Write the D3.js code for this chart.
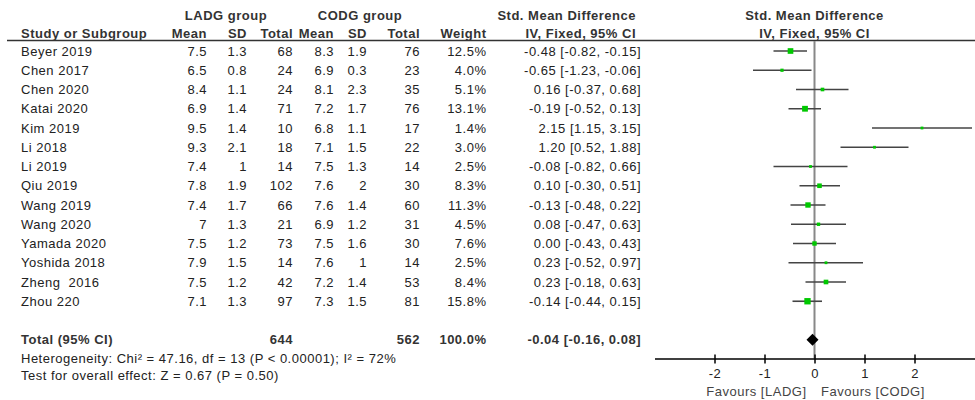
<!DOCTYPE html>
<html><head><meta charset="utf-8">
<script src="https://cdn.jsdelivr.net/npm/d3@7"></script>
<style>
body{margin:0;background:#fff;}
svg{display:block;font-family:"Liberation Sans",Arial,sans-serif;}
text{letter-spacing:0.5px;white-space:pre;}
</style></head>
<body><svg id="chart" width="975" height="400"></svg>
<script>
const studies = ["Beyer 2019","Chen 2017","Chen 2020","Katai 2020","Kim 2019","Li 2018","Li 2019","Qiu 2019","Wang 2019","Wang 2020","Yamada 2020","Yoshida 2018","Zheng  2016","Zhou 220"];
const ladgMean = [7.5,6.5,8.4,6.9,9.5,9.3,7.4,7.8,7.4,7,7.5,7.9,7.5,7.1];
const ladgSD   = [1.3,0.8,1.1,1.4,1.4,2.1,1,1.9,1.7,1.3,1.2,1.5,1.2,1.3];
const ladgN    = [68,24,24,71,10,18,14,102,66,21,73,14,42,97];
const codgMean = [8.3,6.9,8.1,7.2,6.8,7.1,7.5,7.6,7.6,6.9,7.5,7.6,7.2,7.3];
const codgSD   = [1.9,0.3,2.3,1.7,1.1,1.5,1.3,2,1.4,1.2,1.6,1,1.4,1.5];
const codgN    = [76,23,35,76,17,22,14,30,60,31,30,14,53,81];
const weight   = [12.5,4.0,5.1,13.1,1.4,3.0,2.5,8.3,11.3,4.5,7.6,2.5,8.4,15.8];
const smd      = [-0.48,-0.65,0.16,-0.19,2.15,1.20,-0.08,0.10,-0.13,0.08,0.00,0.23,0.23,-0.14];
const ciLow    = [-0.82,-1.23,-0.37,-0.52,1.15,0.52,-0.82,-0.30,-0.48,-0.47,-0.43,-0.52,-0.18,-0.44];
const ciHigh   = [-0.15,-0.06,0.68,0.13,3.15,1.88,0.66,0.51,0.22,0.63,0.43,0.97,0.63,0.15];
const total = {label:"Total (95% CI)", ladgN:644, codgN:562, weight:100.0, smd:-0.04, lo:-0.16, hi:0.08};
const heterogeneity = "Heterogeneity: Chi\u00b2 = 47.16, df = 13 (P < 0.00001); I\u00b2 = 72%";
const overallTest = "Test for overall effect: Z = 0.67 (P = 0.50)";
const axisTicks = [-2,-1,0,1,2];
const favours = ["Favours [LADG]","Favours [CODG]"];

const svg = d3.select("#chart");
const x = d3.scaleLinear().domain([-3.2,3.2]).range([654.5,974.5]);
const y = d3.scaleLinear().domain([0,1]).range([51,70.25]);
const textCol = "#222", headCol = "#333";
const fmt2 = v => v.toFixed(2);
const ciText = (m,l,h)=>`${fmt2(m)} [${fmt2(l)}, ${fmt2(h)}]`;

// columns (right-aligned x)
const cols = [
  {x:207, head:"Mean", vals:ladgMean.map(String)},
  {x:247, head:"SD", vals:ladgSD.map(String)},
  {x:293, head:"Total", vals:ladgN.map(String)},
  {x:334, head:"Mean", vals:codgMean.map(String)},
  {x:367, head:"SD", vals:codgSD.map(String)},
  {x:420, head:"Total", vals:codgN.map(String)},
  {x:486.5, head:"Weight", vals:weight.map(w=>w.toFixed(1)+"%")},
  {x:641, head:"IV, Fixed, 95% CI", vals:studies.map((s,i)=>ciText(smd[i],ciLow[i],ciHigh[i]))}
];

// headers
const hdr = svg.append("g").attr("font-weight","bold").attr("font-size",13).attr("fill",headCol);
hdr.append("text").attr("x",226).attr("y",19.5).attr("text-anchor","middle").text("LADG group");
hdr.append("text").attr("x",360).attr("y",19.5).attr("text-anchor","middle").text("CODG group");
hdr.append("text").attr("x",636).attr("y",19.5).attr("text-anchor","end").text("Std. Mean Difference");
hdr.append("text").attr("x",21).attr("y",38).text("Study or Subgroup");
cols.forEach((c,i)=>{
  hdr.append("text").attr("x", i===7?636:c.x).attr("y",38).attr("text-anchor","end").text(c.head);
});
hdr.append("text").attr("x",x(0)).attr("y",19.5).attr("text-anchor","middle").text("Std. Mean Difference");
hdr.append("text").attr("x",x(0)).attr("y",38).attr("text-anchor","middle").text("IV, Fixed, 95% CI");

svg.append("line").attr("x1",7).attr("x2",975).attr("y1",40.5).attr("y2",40.5).attr("stroke","#333").attr("stroke-width",1.5);

// rows
const body = svg.append("g").attr("font-size",13).attr("fill",textCol);
studies.forEach((s,i)=>{
  const yy = y(i)+4.5;
  body.append("text").attr("x",21).attr("y",yy).text(s);
  cols.forEach(c=>{
    body.append("text").attr("x",c.x).attr("y",yy).attr("text-anchor","end").text(c.vals[i]);
  });
});

// total row
const ty = y(15)+4.5;
const tot = svg.append("g").attr("font-size",13).attr("font-weight","bold").attr("fill",headCol);
tot.append("text").attr("x",21).attr("y",ty).text(total.label);
tot.append("text").attr("x",293).attr("y",ty).attr("text-anchor","end").text(total.ladgN);
tot.append("text").attr("x",420).attr("y",ty).attr("text-anchor","end").text(total.codgN);
tot.append("text").attr("x",486.5).attr("y",ty).attr("text-anchor","end").text(total.weight.toFixed(1)+"%");
tot.append("text").attr("x",641).attr("y",ty).attr("text-anchor","end").text(ciText(total.smd,total.lo,total.hi));

const foot = svg.append("g").attr("font-size",13).attr("fill",textCol);
foot.append("text").attr("x",21).attr("y",362.5).text(heterogeneity);
foot.append("text").attr("x",21).attr("y",379.5).text(overallTest);

// forest plot
const axisY = 358.5;
svg.append("line").attr("x1",x(0)).attr("x2",x(0)).attr("y1",41).attr("y2",axisY)
  .attr("stroke","#888").attr("stroke-width",2);

const plot = svg.append("g");
studies.forEach((s,i)=>{
  plot.append("line").attr("x1",x(ciLow[i])).attr("x2",x(ciHigh[i]))
    .attr("y1",y(i)).attr("y2",y(i)).attr("stroke","#444").attr("stroke-width",1.6);
  const side = Math.max(2.8, 1.6*Math.sqrt(weight[i]));
  plot.append("rect").attr("x",x(smd[i])-side/2).attr("y",y(i)-side/2)
    .attr("width",side).attr("height",side).attr("fill","#00c800");
});
const dy = y(15);
plot.append("path").attr("d",`M${x(total.lo)},${dy} L${x(total.smd)},${dy-6} L${x(total.hi)},${dy} L${x(total.smd)},${dy+6} Z`)
  .attr("fill","#000");

const ax = svg.append("g").attr("transform",`translate(0,${axisY})`)
  .call(d3.axisBottom(x).tickValues(axisTicks).tickFormat(d=>String(d)).tickSizeOuter(0).tickSizeInner(5).tickPadding(6));
ax.select(".domain").attr("stroke","#000").attr("stroke-width",1.5);
ax.selectAll(".tick line").attr("y1",-4).attr("y2",5).attr("stroke","#000").attr("stroke-width",1.5);
ax.selectAll(".tick text").attr("font-size",13).attr("fill","#222").attr("font-family","Liberation Sans, Arial, sans-serif").attr("dy","0.5em").attr("y",13);

svg.append("text").attr("x",806.5).attr("y",396).attr("text-anchor","end").attr("font-size",13).attr("fill","#444").text(favours[0]);
svg.append("text").attr("x",821).attr("y",396).attr("font-size",13).attr("fill","#444").text(favours[1]);
</script></body></html>
